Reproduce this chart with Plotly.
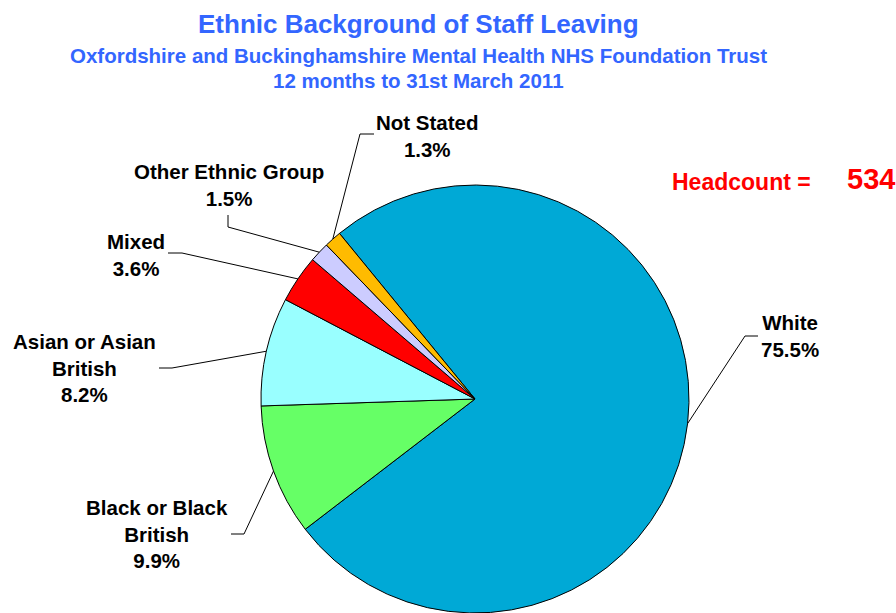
import math
import plotly.graph_objects as go

W, H = 896, 613

# ---- data ----
categories = ["White", "Black or Black British", "Asian or Asian British",
              "Mixed", "Other Ethnic Group", "Not Stated"]
percent = [75.5, 9.9, 8.2, 3.6, 1.5, 1.3]
label_lines = ["White", "Black or Black<br>British", "Asian or Asian<br>British",
               "Mixed", "Other Ethnic Group", "Not Stated"]
headcount = 534

title = "Ethnic Background of Staff Leaving"
subtitle1 = "Oxfordshire and Buckinghamshire Mental Health NHS Foundation Trust"
subtitle2 = "12 months to 31st March 2011"

# ---- style / layout ----
colors = ["#00A9D6", "#66FF66", "#99FFFF", "#FF0000", "#CCCCFF", "#FFBB00"]
FONT = "Liberation Sans, Arial, sans-serif"
BLUE = "#3366FF"

cx, cy, r = 475, 399, 214          # pie centre / radius in pixels
rotation = -39.3                   # start angle, clockwise from 12 o'clock

# label centre positions (px) and leader elbow points (px)
label_pos = [(790, 336), (157, 534), (84, 368), (136, 255), (229, 185), (427, 136)]
elbows = [
    [(745, 336), (758, 336)],
    [(244, 534), (231, 534)],
    [(172, 368), (159, 368)],
    [(182, 253), (168, 253)],
    [(228, 227), (228, 215)],
    [(360, 134), (374, 134)],
]

def px(x):
    return x / W

def py(y):
    return 1 - y / H

fig = go.Figure()
fig.add_trace(go.Pie(
    labels=categories,
    values=percent,
    sort=False,
    direction="clockwise",
    rotation=rotation,
    marker=dict(colors=colors, line=dict(color="black", width=1)),
    textinfo="none",
    hoverinfo="label+percent",
    showlegend=False,
    domain=dict(x=[px(cx - r), px(cx + r)], y=[py(cy + r), py(cy - r)]),
))

annotations = []
shapes = []
total = sum(percent)
angle = rotation
for i, v in enumerate(percent):
    span = v / total * 360.0
    mid = math.radians(angle + span / 2)
    angle += span
    ex = cx + r * math.sin(mid)
    ey = cy - r * math.cos(mid)
    pts = [(ex, ey)] + elbows[i]
    path = "M {} {}".format(px(pts[0][0]), py(pts[0][1]))
    for (x, y) in pts[1:]:
        path += " L {} {}".format(px(x), py(y))
    shapes.append(dict(type="path", xref="paper", yref="paper", path=path,
                       line=dict(color="black", width=1)))
    lx, ly = label_pos[i]
    annotations.append(dict(
        x=px(lx), y=py(ly), xref="paper", yref="paper",
        xanchor="center", yanchor="middle", showarrow=False, align="center",
        text="<b>{}<br>{:.1f}%</b>".format(label_lines[i], v),
        font=dict(family=FONT, size=20.5, color="black"),
    ))

# titles
annotations.append(dict(x=px(418), y=py(24), xref="paper", yref="paper",
                        xanchor="center", yanchor="middle", showarrow=False,
                        text="<b>{}</b>".format(title),
                        font=dict(family=FONT, size=26, color=BLUE)))
annotations.append(dict(x=px(418), y=py(56), xref="paper", yref="paper",
                        xanchor="center", yanchor="middle", showarrow=False,
                        text="<b>{}</b>".format(subtitle1),
                        font=dict(family=FONT, size=20.5, color=BLUE)))
annotations.append(dict(x=px(418), y=py(81), xref="paper", yref="paper",
                        xanchor="center", yanchor="middle", showarrow=False,
                        text="<b>{}</b>".format(subtitle2),
                        font=dict(family=FONT, size=20.5, color=BLUE)))
# headcount
annotations.append(dict(x=px(741), y=py(182), xref="paper", yref="paper",
                        xanchor="center", yanchor="middle", showarrow=False,
                        text="<b>Headcount =</b>",
                        font=dict(family=FONT, size=23, color="#FF0000")))
annotations.append(dict(x=px(845), y=py(179), xref="paper", yref="paper",
                        xanchor="left", yanchor="middle", showarrow=False,
                        text="<b>{}</b>".format(headcount),
                        font=dict(family=FONT, size=29, color="#FF0000")))

fig.update_layout(
    width=W, height=H,
    margin=dict(l=0, r=0, t=0, b=0),
    paper_bgcolor="white", plot_bgcolor="white",
    annotations=annotations, shapes=shapes,
)

fig.write_html("out.html")
